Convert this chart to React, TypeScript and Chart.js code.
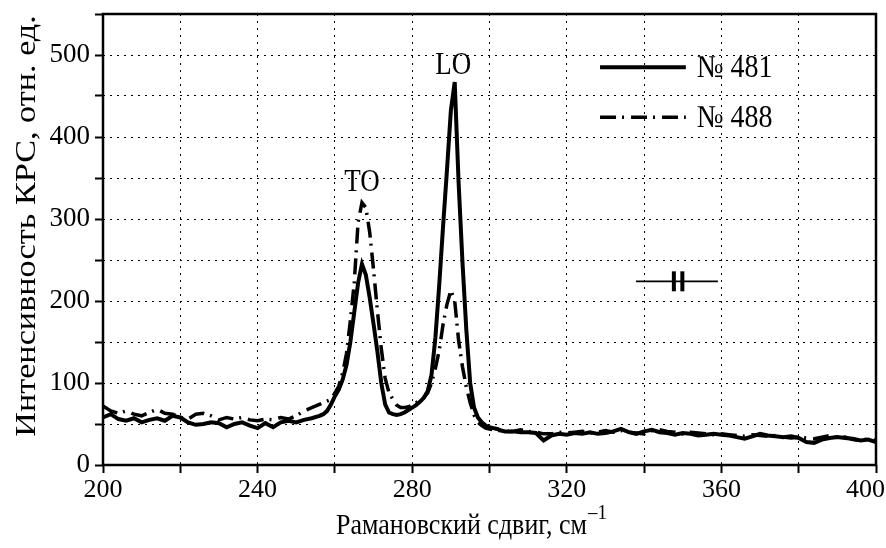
import React, { useEffect, useRef } from "react";
import { Chart, registerables } from "chart.js";

Chart.register(...registerables);

// Raman shift, cm^-1
const wavenumbers = [
  200, 202, 204, 206, 208, 210, 212, 214, 216, 218, 220, 222, 224, 226, 228, 230, 232, 234, 236, 238,
  240, 242, 244, 246, 248, 250, 252, 254, 256,
  257, 258, 259, 260, 261, 262, 263, 264, 265, 266, 267, 268, 269, 270, 271, 272, 273, 274, 275, 276,
  277, 278, 279, 280, 281, 282, 283, 284, 285, 286, 287, 288, 289, 290, 291, 292, 293, 294, 295, 296,
  297, 298, 299, 300, 301, 302, 303, 304,
  306, 308, 310, 312, 314, 316, 318, 320, 322, 324, 326, 328, 330, 332, 334, 336, 338, 340, 342, 344,
  346, 348, 350, 352, 354, 356, 358, 360, 362, 364, 366, 368, 370, 372, 374, 376, 378, 380, 382, 384,
  386, 388, 390, 392, 394, 396, 398, 400,
];

// Sample № 481 (solid)
const sample481 = [
  58, 62, 56, 54, 57, 52, 55, 57, 54, 60, 58, 52, 49, 50, 52, 51, 46, 50, 52, 48,
  45, 51, 46, 52, 54, 52, 55, 57, 60,
  62, 66, 74, 84, 92, 104, 122, 150, 186, 222, 245, 232, 204, 172, 138, 100, 74, 64, 62, 61,
  62, 64, 67, 70, 73, 77, 82, 90, 110, 155, 220, 292, 360, 432, 467, 345, 248, 165, 100, 70,
  58, 52, 48, 46, 45, 44, 42, 41,
  41, 40, 40, 39, 30, 36, 38, 37, 39, 38, 40, 38, 39, 41, 44, 40, 38, 41, 43, 40,
  39, 37, 39, 38, 36, 37, 38, 37, 36, 34, 32, 35, 38, 36, 35, 34, 35, 33, 28, 27,
  31, 33, 34, 33, 32, 30, 31, 28,
];

// Sample № 488 (dash-dot)
const sample488 = [
  72, 66, 63, 66, 62, 60, 64, 68, 63, 62, 58, 56, 62, 63, 60, 55, 58, 56, 58, 55,
  54, 56, 55, 58, 56, 60, 66, 70, 74,
  76, 78, 80, 88, 96, 112, 136, 176, 222, 296, 320, 314, 284, 238, 188, 142, 106, 88, 80, 73,
  70, 70, 71, 73, 76, 79, 82, 88, 100, 118, 140, 172, 196, 213, 200, 152, 120, 95, 76, 61,
  52, 48, 45, 44, 43, 42, 42, 41,
  41, 43, 41, 40, 38, 38, 40, 39, 40, 41, 39, 40, 42, 40, 42, 40, 39, 38, 42, 43,
  41, 40, 38, 40, 39, 38, 37, 38, 37, 36, 35, 37, 36, 35, 36, 34, 33, 34, 33, 32,
  34, 36, 33, 34, 31, 30, 32, 30,
];

const seriesLabels = ["№ 481", "№ 488"];
const xLabeledTicks = [200, 240, 280, 320, 360];
const xLastTick = 400;
const yLabeledTicks = [0, 100, 200, 300, 400, 500];
const xTitle = "Рамановский сдвиг, см";
const xTitleSup = "–1";
const yTitle = "Интенсивность КРС, отн. ед.";
const peakLabels = ["TO", "LO"];

const FONT = "'Liberation Serif', 'Times New Roman', serif";
const DASH_DOT = [16, 6, 2, 7];

function stretchedText(ctx: any, text: string, x: number, y: number, align: string, font: string, sy: number) {
  ctx.save();
  ctx.translate(x, y);
  ctx.scale(1, sy);
  ctx.font = font;
  ctx.textAlign = align;
  ctx.textBaseline = "middle";
  ctx.fillText(text, 0, 0);
  ctx.restore();
}

const overlayPlugin = {
  id: "overlay",
  afterDraw(chart: any) {
    const { ctx, chartArea, scales } = chart;
    const xs = scales.x;
    const ys = scales.y;
    const px = (v: number) => xs.getPixelForValue(v);
    const py = (v: number) => ys.getPixelForValue(v);
    ctx.save();
    ctx.fillStyle = "#000";
    ctx.strokeStyle = "#000";

    // frame
    ctx.lineWidth = 2.5;
    ctx.setLineDash([]);
    ctx.strokeRect(chartArea.left, chartArea.top, chartArea.right - chartArea.left, chartArea.bottom - chartArea.top);

    // last x tick label, kept inside the canvas
    stretchedText(ctx, String(xLastTick), chart.width - 1, 490, "right", `26px ${FONT}`, 1.0);

    // peak labels
    stretchedText(ctx, peakLabels[0], px(267.0), py(344), "center", `27px ${FONT}`, 1.15);
    stretchedText(ctx, peakLabels[1], px(290.6), py(487), "center", `27px ${FONT}`, 1.15);

    // legend
    const lx1 = px(328.6);
    const lx2 = px(350.8);
    const ltx = px(353.6);
    const ly = [py(485), py(424)];
    ctx.lineWidth = 4;
    ctx.setLineDash([]);
    ctx.beginPath();
    ctx.moveTo(lx1, ly[0]);
    ctx.lineTo(lx2, ly[0]);
    ctx.stroke();
    ctx.lineWidth = 3.5;
    ctx.setLineDash(DASH_DOT);
    ctx.beginPath();
    ctx.moveTo(lx1, ly[1]);
    ctx.lineTo(lx2, ly[1]);
    ctx.stroke();
    ctx.setLineDash([]);
    stretchedText(ctx, seriesLabels[0], ltx, ly[0] + 1, "left", `28px ${FONT}`, 1.12);
    stretchedText(ctx, seriesLabels[1], ltx, ly[1] + 1, "left", `28px ${FONT}`, 1.12);

    // break symbol
    const by = py(224);
    ctx.lineWidth = 1.8;
    ctx.beginPath();
    ctx.moveTo(px(337.9), by);
    ctx.lineTo(px(359.1), by);
    ctx.stroke();
    ctx.lineWidth = 4;
    for (const bv of [347.7, 349.9]) {
      ctx.beginPath();
      ctx.moveTo(px(bv), by - 10);
      ctx.lineTo(px(bv), by + 10);
      ctx.stroke();
    }

    // y title
    ctx.save();
    ctx.translate(27, 226);
    ctx.rotate(-Math.PI / 2);
    ctx.scale(1.18, 1);
    ctx.textAlign = "center";
    ctx.textBaseline = "middle";
    ctx.font = `29px ${FONT}`;
    ctx.fillText(yTitle, 0, 0);
    ctx.restore();

    // x title with superscript
    ctx.font = `26px ${FONT}`;
    const w1 = ctx.measureText(xTitle).width;
    const startX = 336;
    const baseY = 534;
    ctx.save();
    ctx.translate(startX, baseY);
    ctx.scale(1, 1.12);
    ctx.textAlign = "left";
    ctx.textBaseline = "alphabetic";
    ctx.font = `26px ${FONT}`;
    ctx.fillText(xTitle, 0, 0);
    ctx.font = `19px ${FONT}`;
    ctx.fillText(xTitleSup, w1 + 1, -13);
    ctx.restore();

    ctx.restore();
  },
};

export default function App() {
  const canvasRef = useRef<HTMLCanvasElement | null>(null);

  useEffect(() => {
    document.body.style.margin = "0";
    const canvas = canvasRef.current;
    if (!canvas) return;
    const chart = new Chart(canvas, {
      type: "line",
      data: {
        datasets: [
          {
            label: seriesLabels[0],
            data: wavenumbers.map((x, i) => ({ x, y: sample481[i] })),
            borderColor: "#000",
            borderWidth: 4,
            pointRadius: 0,
            tension: 0,
            fill: false,
          },
          {
            label: seriesLabels[1],
            data: wavenumbers.map((x, i) => ({ x, y: sample488[i] })),
            borderColor: "#000",
            borderWidth: 3.5,
            borderDash: DASH_DOT,
            pointRadius: 0,
            tension: 0,
            fill: false,
          },
        ],
      },
      options: {
        animation: false,
        responsive: false,
        events: [],
        layout: { padding: { top: 14, right: 10, left: 0, bottom: 0 } },
        plugins: { legend: { display: false }, tooltip: { enabled: false } },
        scales: {
          x: {
            type: "linear",
            min: 200,
            max: 400,
            ticks: {
              stepSize: 20,
              autoSkip: false,
              maxRotation: 0,
              padding: 2,
              color: "#000",
              font: { family: FONT, size: 26 },
              callback: (v: any) => (xLabeledTicks.includes(Number(v)) ? String(v) : ""),
            },
            grid: {
              color: "#000",
              lineWidth: 1,
              drawTicks: true,
              tickLength: 8,
              tickWidth: 2,
              tickColor: "#000",
              tickBorderDash: [],
            },
            border: { display: false, dash: [2, 5] },
            afterFit: (s: any) => {
              s.height = 83;
              s.paddingLeft = 0;
              s.paddingRight = 0;
            },
          },
          y: {
            type: "linear",
            min: 0,
            max: 550,
            ticks: {
              stepSize: 50,
              autoSkip: false,
              padding: 5,
              color: "#000",
              font: { family: FONT, size: 27 },
              callback: (v: any) => (yLabeledTicks.includes(Number(v)) ? String(v) : ""),
            },
            grid: {
              color: "#000",
              lineWidth: 1,
              drawTicks: true,
              tickLength: 8,
              tickWidth: 2,
              tickColor: "#000",
              tickBorderDash: [],
            },
            border: { display: false, dash: [2, 5] },
            afterFit: (s: any) => {
              s.width = 103;
              s.paddingTop = 0;
              s.paddingBottom = 0;
            },
          },
        },
      },
      plugins: [overlayPlugin],
    } as any);
    return () => chart.destroy();
  }, []);

  return (
    <div style={{ position: "absolute", left: 0, top: 0, width: 886, height: 548, background: "#fff" }}>
      <canvas ref={canvasRef} width={886} height={548} />
    </div>
  );
}
